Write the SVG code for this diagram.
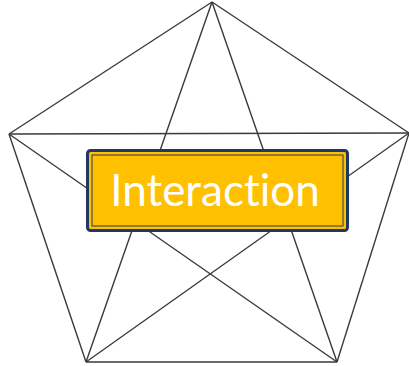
<svg xmlns="http://www.w3.org/2000/svg" width="409" height="366" viewBox="0 0 409 366">
<style>
.e{stroke:#3a3a3a;stroke-width:1.4;fill:none}
.lbl{font-family:Lato,"Open Sans","Liberation Sans",sans-serif;font-size:44px;fill:#ffffff;font-variant-ligatures:none;font-feature-settings:"liga" 0}
</style>
<rect width="409" height="366" fill="#ffffff"/>
<g id="connectors">
<line class="e" x1="212" y1="2" x2="9" y2="134"/>
<line class="e" x1="212" y1="2" x2="409" y2="133"/>
<line class="e" x1="212" y1="2" x2="86" y2="362"/>
<line class="e" x1="212" y1="2" x2="337" y2="362"/>
<line class="e" x1="9" y1="134" x2="409" y2="133"/>
<line class="e" x1="9" y1="134" x2="86" y2="362"/>
<line class="e" x1="9" y1="134" x2="337" y2="362"/>
<line class="e" x1="409" y1="133" x2="86" y2="362"/>
<line class="e" x1="409" y1="133" x2="337" y2="362"/>
<line class="e" x1="86" y1="362" x2="337" y2="362"/>
</g>
<g id="interaction">
<rect x="87.5" y="150.5" width="260" height="80" rx="3" fill="#ffc000" stroke="#203864" stroke-width="3"/>
<rect x="92" y="155" width="251" height="71" fill="none" stroke="#203864" stroke-width="1"/>
<text class="lbl" x="215" y="206" text-anchor="middle">Interaction</text>
</g>
</svg>
